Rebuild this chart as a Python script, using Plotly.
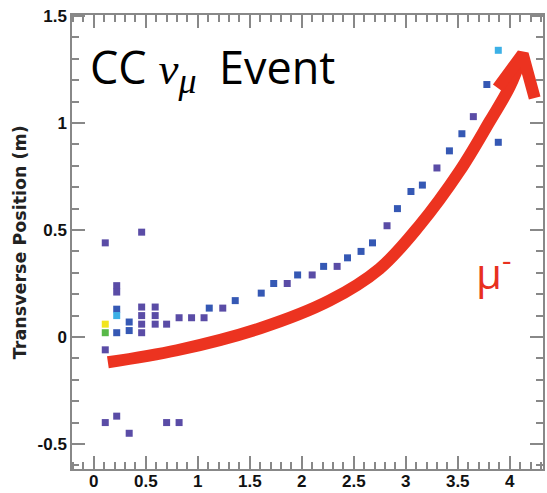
import plotly.graph_objects as go

# ---- data ----
hit_x = [0.11, 0.11, 0.11, 0.11, 0.11,
         0.22, 0.22, 0.22, 0.22, 0.22, 0.22,
         0.34, 0.34, 0.34,
         0.46, 0.46, 0.46, 0.46, 0.46,
         0.59, 0.59, 0.59,
         0.70, 0.70, 0.82, 0.82,
         0.94, 1.06, 1.11, 1.24, 1.36, 1.61, 1.73, 1.86, 1.96, 2.10,
         2.21, 2.34, 2.44, 2.57, 2.68, 2.82, 2.92, 3.05, 3.16, 3.30,
         3.42, 3.54, 3.65, 3.78, 3.89, 3.89]
hit_y = [0.44, 0.06, 0.02, -0.06, -0.40,
         0.24, 0.21, 0.13, 0.10, 0.02, -0.37,
         0.07, 0.03, -0.45,
         0.49, 0.14, 0.10, 0.06, 0.02,
         0.14, 0.10, 0.06,
         0.06, -0.40, 0.09, -0.40,
         0.09, 0.09, 0.135, 0.135, 0.17, 0.205, 0.25, 0.25, 0.29, 0.29,
         0.33, 0.33, 0.37, 0.40, 0.44, 0.52, 0.60, 0.68, 0.71, 0.79,
         0.87, 0.95, 1.03, 1.18, 1.34, 0.91]
hit_level = ["P", "Y", "G", "P", "P",
             "P", "P", "B", "C", "B", "P",
             "B", "B", "P",
             "P", "P", "P", "P", "P",
             "P", "P", "P",
             "P", "P", "P", "P",
             "P", "P", "B", "P", "B", "B", "B", "P", "B", "P",
             "B", "P", "B", "B", "B", "P", "B", "B", "B", "P",
             "B", "B", "P", "B", "C", "B"]
level_colors = {"P": "#5a4ca6", "B": "#3558b4", "C": "#3cb0e6",
                "Y": "#f2e51c", "G": "#58b848"}

x_tick_vals = [0, 0.5, 1, 1.5, 2, 2.5, 3, 3.5, 4]
x_tick_text = ["0", "0.5", "1", "1.5", "2", "2.5", "3", "3.5", "4"]
y_tick_vals = [-0.5, 0, 0.5, 1, 1.5]
y_tick_text = ["-0.5", "0", "0.5", "1", "1.5"]

# muon arrow path (data coordinates)
arrow_x = [0.135, 0.80, 1.60, 2.27, 2.75, 3.13, 3.52, 3.81, 4.0, 4.125]
arrow_y = [-0.118, -0.062, 0.041, 0.171, 0.32, 0.52, 0.777, 1.01, 1.17, 1.322]
head_x = [3.885, 4.125, 4.24]
head_y = [1.164, 1.322, 1.117]

x_range = [-0.21, 4.32]
y_range = [-0.617, 1.505]

TICK_FONT = "Liberation Sans, Arial"

fig = go.Figure()

fig.add_trace(go.Scatter(
    x=arrow_x, y=arrow_y, mode="lines",
    line=dict(color="#ec3320", width=12, shape="spline", smoothing=1.0),
    hoverinfo="skip", showlegend=False))
fig.add_trace(go.Scatter(
    x=head_x, y=head_y, mode="lines",
    line=dict(color="#ec3320", width=12),
    hoverinfo="skip", showlegend=False))

fig.add_trace(go.Scatter(
    x=hit_x, y=hit_y, mode="markers",
    marker=dict(symbol="square", size=7,
                color=[level_colors[c] for c in hit_level],
                line=dict(width=0)),
    showlegend=False))

axis_common = dict(
    showgrid=False, zeroline=False, showline=True, linecolor="#888888",
    linewidth=1.5, mirror="allticks", ticks="inside", ticklen=13,
    tickcolor="#888888", tickwidth=1.5, tickmode="array", automargin=False,
    tickfont=dict(family=TICK_FONT, size=17, color="#111111", weight="bold"),
)
minor_common = dict(dtick=0.1, tick0=0, ticks="inside", ticklen=7,
                    tickcolor="#888888", tickwidth=1.5)

fig.update_xaxes(range=x_range, tickvals=x_tick_vals, ticktext=x_tick_text,
                 minor=minor_common, ticklabelstandoff=-4, **axis_common)
fig.update_yaxes(range=y_range, tickvals=y_tick_vals, ticktext=y_tick_text,
                 minor=minor_common, **axis_common)

# y-axis title
fig.add_annotation(
    xref="paper", yref="paper", x=-0.110, y=0.5, xanchor="center",
    yanchor="middle", textangle=-90, showarrow=False,
    text="Transverse Position (m)",
    font=dict(family="DejaVu Sans", size=17.5, color="#222222", weight="bold"))

fig.add_annotation(
    xref="paper", yref="paper", x=0.034, y=0.958, xanchor="left", yanchor="top",
    text=("CC <span style='font-family:Liberation Serif'><i>ν</i>"
          "<sub><span style='font-size:36px'><i>μ</i></span></sub></span>"
          "\u2002Event"),
    showarrow=False,
    font=dict(family="Open Sans, DejaVu Sans", size=45, color="#000000"))

fig.add_annotation(
    x=3.84, y=0.31, xref="x", yref="y", xanchor="center", yanchor="middle",
    text="μ<sup>-</sup>", showarrow=False,
    font=dict(family="Open Sans, DejaVu Sans", size=42, color="#e8301e"))

fig.update_layout(
    width=547, height=493,
    margin=dict(l=72, r=4, t=15, b=24),
    paper_bgcolor="white", plot_bgcolor="white",
)

fig.write_html("out.html")
